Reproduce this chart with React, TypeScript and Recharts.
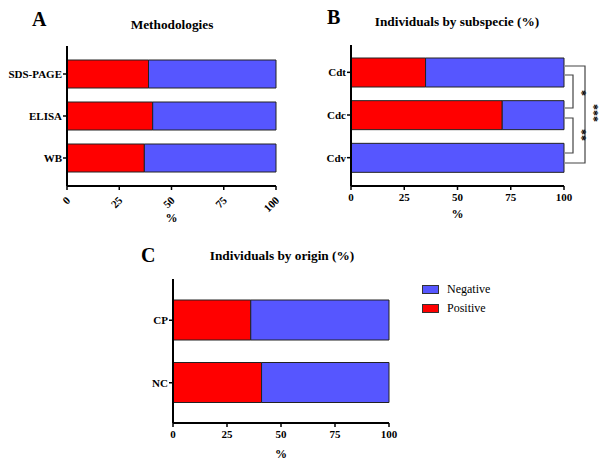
import React from 'react';
import { BarChart, Bar, XAxis, YAxis, Legend } from 'recharts';

// values (% of individuals)
const methodCats = ['SDS-PAGE', 'ELISA', 'WB'];
const methodPositive = [39, 41, 37];
const methodNegative = [61, 59, 63];

const subspCats = ['Cdt', 'Cdc', 'Cdv'];
const subspPositive = [35, 71, 0];
const subspNegative = [65, 29, 100];

const originCats = ['CP', 'NC'];
const originPositive = [36, 41];
const originNegative = [64, 59];

const xTicks = [0, 25, 50, 75, 100];

const RED = '#ff0000';
const BLUE = '#5656ff';
const FONT = '"Liberation Serif", "Times New Roman", serif';

const build = (cats: string[], pos: number[], neg: number[]) =>
  cats.map((name, i) => ({ name, Positive: pos[i], Negative: neg[i] }));

// rotated tick labels of panel A
const RotTick = (props: any) => {
  const { x, y, payload } = props;
  return (
    <g transform={`translate(${x + 4},${y + 8}) rotate(-45)`}>
      <text x={0} y={0} textAnchor="end" fontSize={11} fontWeight="bold" fontFamily={FONT} fill="#000">
        {payload.value}
      </text>
    </g>
  );
};

const LegendBox = (props: any) => {
  const items = [...(props.payload || [])].sort((a: any, b: any) => (a.value < b.value ? -1 : 1));
  return (
    <div style={{ fontFamily: FONT, fontSize: 12 }}>
      {items.map((it: any) => (
        <div key={it.value} style={{ display: 'flex', alignItems: 'center', height: 19 }}>
          <span style={{ display: 'inline-block', width: 15, height: 7, background: it.color,
            border: '1px solid #333', marginRight: 8 }} />
          <span>{it.value}</span>
        </div>
      ))}
    </div>
  );
};

interface PanelProps {
  cats: string[];
  pos: number[];
  neg: number[];
  left: number;
  top: number;
  width: number;
  height: number;
  yWidth: number;
  right: number;
  plotTop: number;
  pad: { top: number; bottom: number };
  barSize: number;
  rotated?: boolean;
  labelOffset: number;
  legend?: boolean;
}

const Panel = (p: PanelProps) => {
  const data = build(p.cats, p.pos, p.neg);
  const axisStyle = { fontSize: 11, fontWeight: 'bold', fontFamily: FONT, fill: '#000' };
  return (
    <div style={{ position: 'absolute', left: p.left, top: p.top }}>
      <BarChart width={p.width} height={p.height} data={data} layout="vertical"
        margin={{ top: p.plotTop, right: p.right, bottom: 0, left: 0 }}>
        <XAxis type="number" domain={[0, 100]} ticks={xTicks} height={44}
          axisLine={{ stroke: '#000', strokeWidth: 2 }} tickLine={{ stroke: '#000', strokeWidth: 1.5 }}
          tickSize={4} tickMargin={3}
          tick={p.rotated ? <RotTick /> : axisStyle}
          label={{ value: '%', position: 'insideBottom', offset: p.labelOffset,
            style: { fontSize: 12, fontWeight: 'bold', fontFamily: FONT, fill: '#000' } }} />
        <YAxis type="category" dataKey="name" width={p.yWidth} padding={p.pad}
          axisLine={{ stroke: '#000', strokeWidth: 2 }} tickLine={{ stroke: '#000', strokeWidth: 1.5 }}
          tickSize={4} tickMargin={1} tick={axisStyle} />
        <Bar dataKey="Positive" stackId="s" fill={RED} stroke="#222" strokeWidth={1}
          barSize={p.barSize} isAnimationActive={false} />
        <Bar dataKey="Negative" stackId="s" fill={BLUE} stroke="#222" strokeWidth={1}
          barSize={p.barSize} isAnimationActive={false} />
        {p.legend && (
          <Legend layout="vertical" align="center" verticalAlign="middle" content={<LegendBox />}
            wrapperStyle={{ left: 322, top: 50, width: 90 }} />
        )}
      </BarChart>
    </div>
  );
};

const Annotations = () => {
  const t = { fontFamily: FONT, fontWeight: 'bold', fill: '#000' } as const;
  const br = { stroke: '#444', strokeWidth: 1.2, fill: 'none' };
  return (
    <svg width={600} height={467} style={{ position: 'absolute', left: 0, top: 0, pointerEvents: 'none' }}>
      <text x={32} y={26} fontSize={20} {...t}>A</text>
      <text x={172} y={29} fontSize={13.3} textAnchor="middle" {...t}>Methodologies</text>
      <text x={327} y={24} fontSize={20} {...t}>B</text>
      <text x={457} y={26} fontSize={13.3} textAnchor="middle" {...t}>Individuals by subspecie (%)</text>
      <text x={141} y={262} fontSize={20} {...t}>C</text>
      <text x={282} y={260} fontSize={13.3} textAnchor="middle" {...t}>Individuals by origin (%)</text>
      <polyline points="565,75 573,75 573,108 565,108" {...br} />
      <polyline points="565,118 573,118 573,153 565,153" {...br} />
      <polyline points="565,66 585,66 585,163 565,163" {...br} />
      <text x={578} y={93} fontSize={12} transform="rotate(90 578 93)" textAnchor="middle" {...t}>*</text>
      <text x={578} y={135} fontSize={12} transform="rotate(90 578 135)" textAnchor="middle" {...t}>**</text>
      <text x={590} y={113} fontSize={12} transform="rotate(90 590 113)" textAnchor="middle" {...t}>***</text>
    </svg>
  );
};

export default function App() {
  return (
    <div style={{ position: 'absolute', left: 0, top: 0, width: 600, height: 467, background: '#fff' }}>
      <Panel cats={methodCats} pos={methodPositive} neg={methodNegative}
        left={0} top={0} width={300} height={230} yWidth={67} right={24} plotTop={46}
        pad={{ top: 7, bottom: 7 }} barSize={28} rotated labelOffset={8} />
      <Panel cats={subspCats} pos={subspPositive} neg={subspNegative}
        left={300} top={0} width={300} height={230} yWidth={51} right={36} plotTop={45}
        pad={{ top: 6, bottom: 7 }} barSize={29} labelOffset={12} />
      <Panel cats={originCats} pos={originPositive} neg={originNegative}
        left={100} top={230} width={400} height={237} yWidth={73} right={111} plotTop={49}
        pad={{ top: 10, bottom: 9 }} barSize={40} labelOffset={9} legend />
      <Annotations />
    </div>
  );
}
